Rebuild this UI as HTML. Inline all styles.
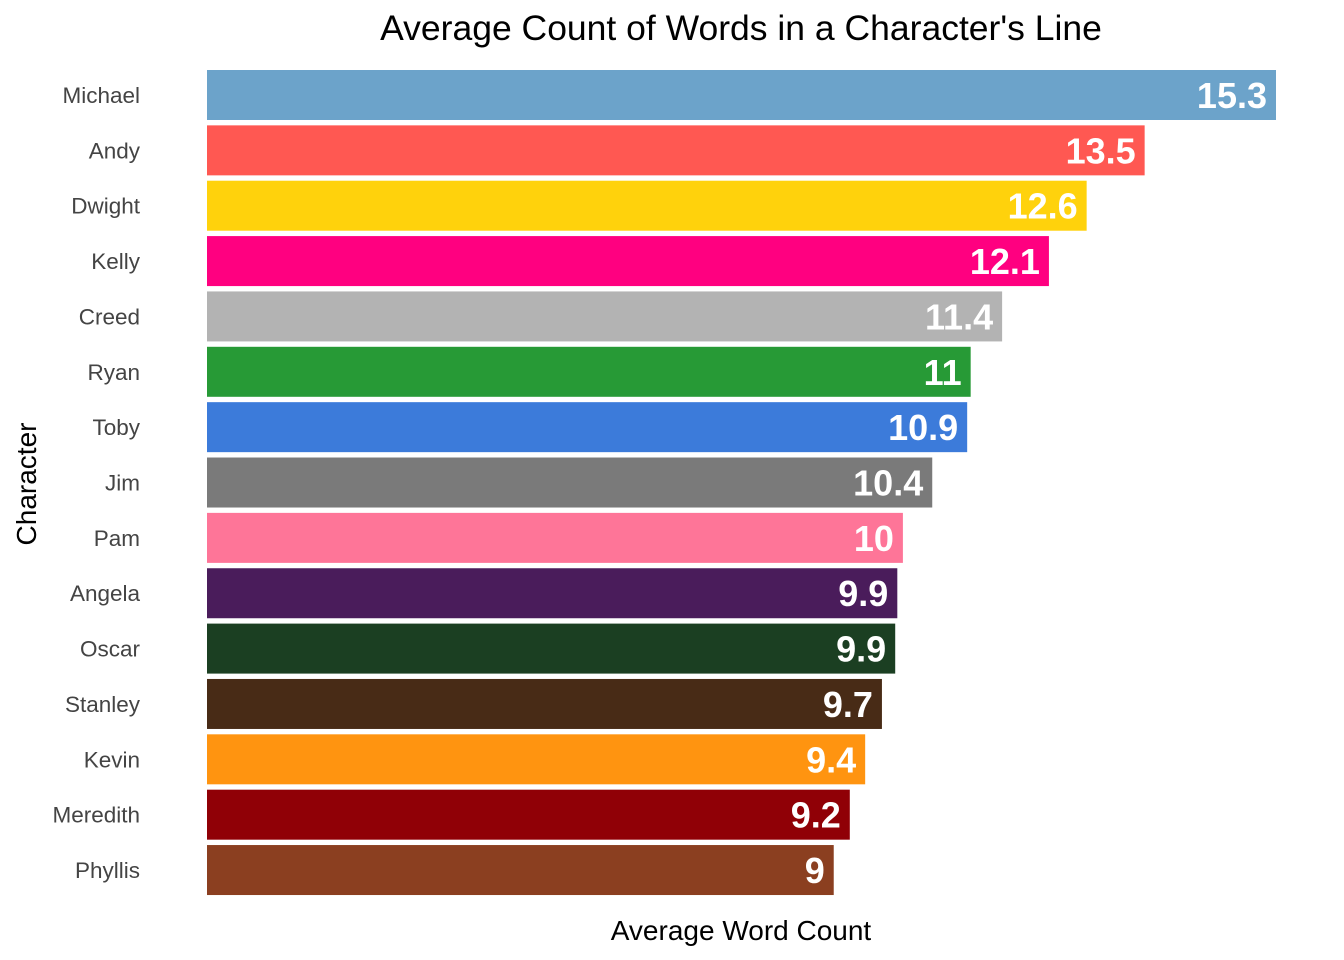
<!DOCTYPE html>
<html><head><meta charset="utf-8"><style>
html,body{margin:0;padding:0;background:#fff;}
svg{display:block;font-family:"Liberation Sans",Arial,sans-serif;}
</style></head><body>
<svg id="chart" width="1344" height="960">
<text x="741" y="40" text-anchor="middle" font-size="35.5" fill="#000">Average Count of Words in a Character's Line</text>
<text x="741" y="940" text-anchor="middle" font-size="28" fill="#000">Average Word Count</text>
<text transform="translate(36,484) rotate(-90)" text-anchor="middle" font-size="28" fill="#000">Character</text>
<g id="bars"></g>
</svg>
<script>
const categories=["Michael","Andy","Dwight","Kelly","Creed","Ryan","Toby","Jim","Pam","Angela","Oscar","Stanley","Kevin","Meredith","Phyllis"];
const values=[15.3,13.42,12.59,12.05,11.38,10.93,10.88,10.38,9.96,9.88,9.85,9.66,9.42,9.2,8.97];
const labels=["15.3","13.5","12.6","12.1","11.4","11","10.9","10.4","10","9.9","9.9","9.7","9.4","9.2","9"];
const colors=["#6ca3ca","#ff5852","#ffd20c","#ff0080","#b3b3b3","#279a36","#3c7bda","#7a7a7a","#fe7598","#4a1c5b","#1b3f22","#482b16","#ff9410","#900006","#8b3f20"];
const x0=207, xMax=15.3, xPix=1069;
const xs=v=>x0+v/xMax*xPix;
const y0=70, step=55.36, bh=50;
const ys=i=>y0+i*step;
const g=document.getElementById('bars');
const NS="http://www.w3.org/2000/svg";
categories.forEach((c,i)=>{
  const r=document.createElementNS(NS,'rect');
  r.setAttribute('x',x0);r.setAttribute('y',ys(i));
  r.setAttribute('width',xs(values[i])-x0);r.setAttribute('height',bh);
  r.setAttribute('fill',colors[i]);
  
  
  g.appendChild(r);
  const t=document.createElementNS(NS,'text');
  t.setAttribute('x',140);t.setAttribute('y',ys(i)+bh/2+8);
  t.setAttribute('text-anchor','end');t.setAttribute('font-size','22.5');t.setAttribute('fill','#444');
  t.textContent=c;
  
  
  g.appendChild(t);
  const v=document.createElementNS(NS,'text');
  v.setAttribute('x',xs(values[i])-9);v.setAttribute('y',ys(i)+bh/2+13);
  v.setAttribute('text-anchor','end');v.setAttribute('font-size','36');v.setAttribute('font-weight','bold');v.setAttribute('fill','#fff');
  v.textContent=labels[i];
  
  
  g.appendChild(v);
});
</script>
</body></html>
